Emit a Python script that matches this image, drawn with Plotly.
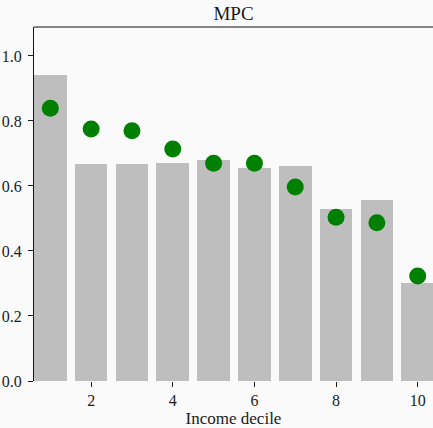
import plotly.graph_objects as go

# Income deciles and marginal propensity to consume
deciles = [1, 2, 3, 4, 5, 6, 7, 8, 9, 10]
mpc_data = [0.940, 0.667, 0.667, 0.670, 0.679, 0.654, 0.662, 0.528, 0.556, 0.300]
mpc_model = [0.839, 0.775, 0.770, 0.714, 0.670, 0.670, 0.597, 0.504, 0.487, 0.323]
x_ticks = [2, 4, 6, 8, 10]
y_ticks = [0.0, 0.2, 0.4, 0.6, 0.8, 1.0]

FONT = "Liberation Serif, DejaVu Serif, serif"
INK = "#1a1a1a"

fig = go.Figure()
fig.add_trace(go.Bar(
    x=deciles, y=mpc_data, width=0.8,
    marker=dict(color="#bebebe", line=dict(width=0)),
    showlegend=False,
))
fig.add_trace(go.Scatter(
    x=deciles, y=mpc_model, mode="markers",
    marker=dict(color="#008000", size=17, line=dict(width=0)),
    showlegend=False,
))

fig.update_layout(
    width=433, height=428,
    margin=dict(l=34, r=0, t=27, b=47),
    paper_bgcolor="#fafafa", plot_bgcolor="#fafafa",
    font=dict(family=FONT, size=16, color=INK),
    title=dict(text="MPC", x=0.5, xref="paper", xanchor="center",
               y=1 - 13 / 428, yanchor="middle",
               font=dict(family=FONT, size=19, color=INK)),
    bargap=0,
    xaxis=dict(
        range=[0.6, 10.375], tickvals=x_ticks, ticktext=[str(v) for v in x_ticks],
        ticks="outside", ticklen=5, tickcolor=INK, showgrid=False,
        tickfont=dict(family=FONT, size=16, color=INK),
        zeroline=False, showline=False,
        title=dict(text="Income decile", standoff=3,
                   font=dict(family=FONT, size=17, color=INK)),
    ),
    yaxis=dict(
        range=[0, 1.089], tickvals=y_ticks, ticktext=[f"{v:.1f}" for v in y_ticks],
        ticks="outside", ticklen=5, tickcolor=INK, showgrid=False,
        tickfont=dict(family=FONT, size=16, color=INK), ticklabelstandoff=3,
        zeroline=False, showline=True, linecolor="#111", linewidth=1.2,
    ),
    shapes=[dict(type="line", xref="paper", yref="paper", x0=0, x1=1, y0=1, y1=1,
                 line=dict(color="#111", width=1.2))],
)

fig.write_html("out.html")
